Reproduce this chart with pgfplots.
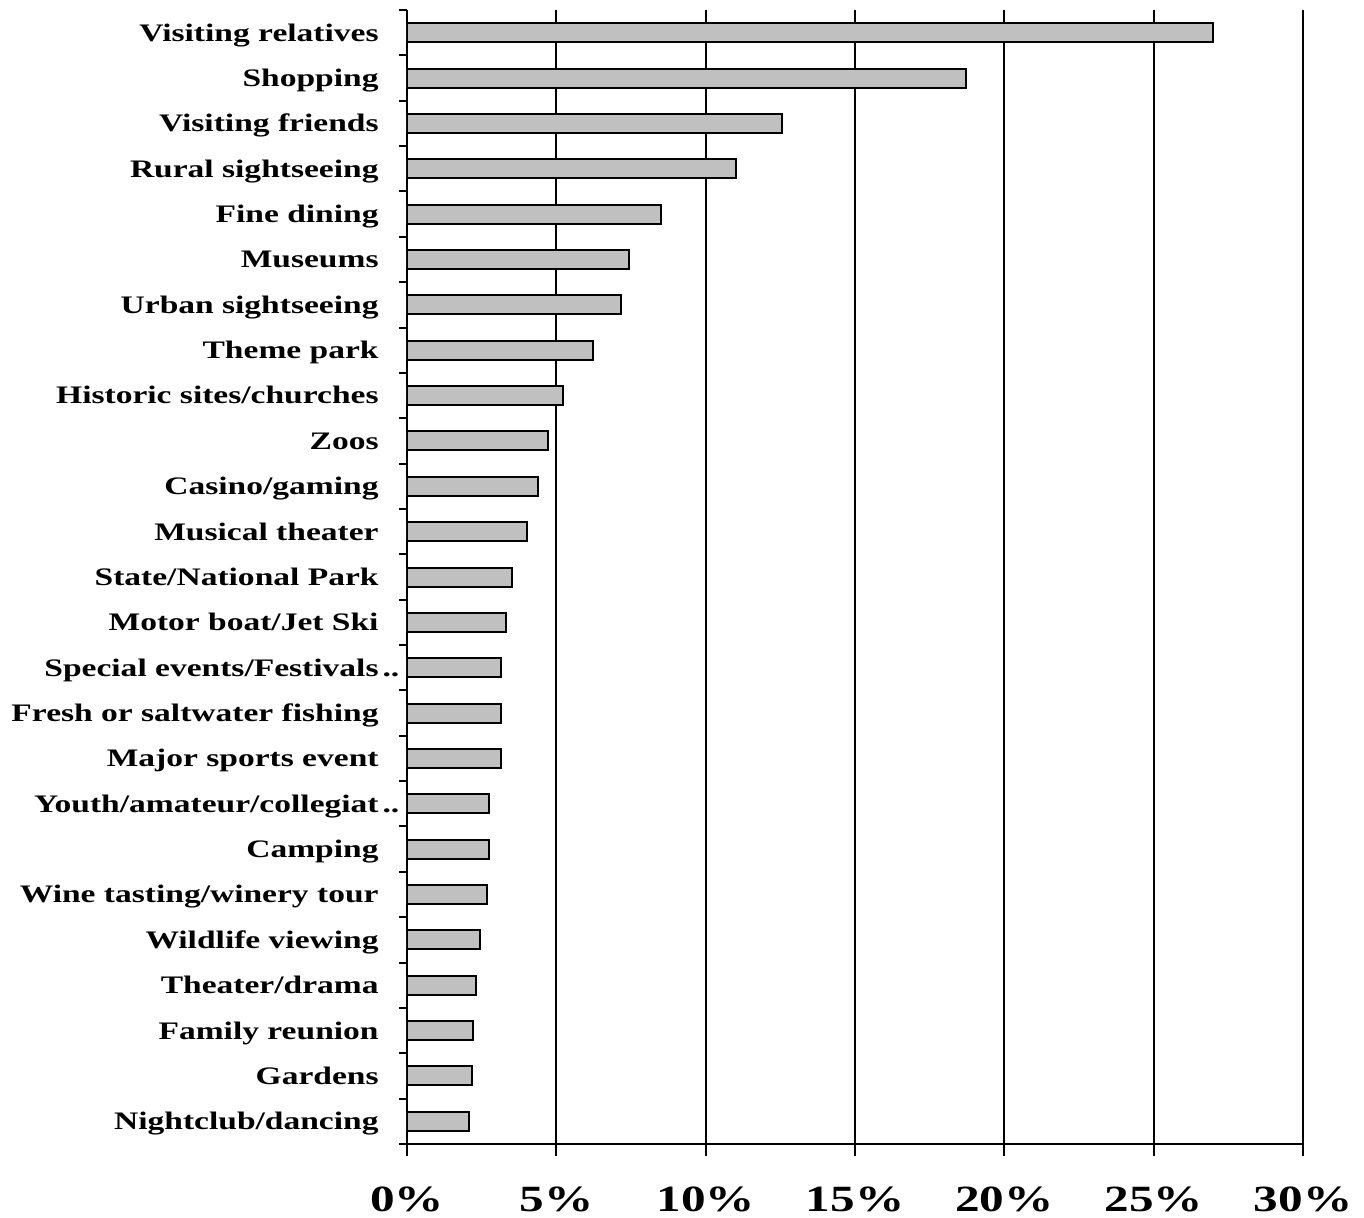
\documentclass[border=0pt]{standalone}
\usepackage{fontspec}
\setmainfont{Liberation Serif}[FakeStretch=1.33]
\usepackage{pgfplots}
\pgfplotsset{compat=1.18}
\definecolor{bargray}{RGB}{192,192,192}
\begin{document}
\begin{tikzpicture}
\path[use as bounding box] (-203.5pt,-36.5pt) rectangle (478.5pt,572pt);
\begin{axis}[
  at={(0pt,0pt)}, anchor=south west,
  scale only axis,
  width=448pt, height=567pt,
  xmin=0, xmax=30,
  ymin=-0.5, ymax=24.5,
  xbar, bar width=9.5pt,
  axis x line*=bottom, axis y line*=left,
  axis line style={line width=1pt},
  xmajorgrids,
  grid style={black, line width=1.1pt},
  tick align=outside,
  major tick length=6pt,
  minor tick length=4pt,
  tick style={black, line width=1pt},
  every major y tick/.append style={draw=none},
  xtick={0,5,10,15,20,25,30},
  xticklabels={0\%,5\%,10\%,15\%,20\%,25\%,30\%},
  ytick={0,...,24},
  minor ytick={-0.5,0.5,...,24.5},
  yticklabels={Nightclub/dancing, Gardens, Family reunion, Theater/drama, Wildlife viewing, Wine tasting/winery tour, Camping, Youth/amateur/collegiat\rlap{\kern2pt..}, Major sports event, Fresh or saltwater fishing, Special events/Festivals\rlap{\kern2pt..}, Motor boat/Jet Ski, State/National Park, Musical theater, Casino/gaming, Zoos, Historic sites/churches, Theme park, Urban sightseeing, Museums, Fine dining, Rural sightseeing, Visiting friends, Shopping, Visiting relatives},
  yticklabel style={font=\fontsize{12.6pt}{14pt}\selectfont\bfseries, anchor=base east, inner sep=0pt, xshift=-8pt, yshift=-4.2pt},
  xticklabel style={font=\fontsize{18.5pt}{20pt}\selectfont\bfseries, anchor=north, inner sep=0pt, yshift=-15pt},
]
\addplot[fill=bargray, draw=black, line width=1pt] coordinates {
(2.09,0) (2.17,1) (2.22,2) (2.30,3) (2.46,4) (2.67,5) (2.73,6) (2.73,7)
(3.16,8) (3.16,9) (3.16,10) (3.30,11) (3.51,12) (4.02,13) (4.37,14) (4.72,15)
(5.22,16) (6.22,17) (7.15,18) (7.42,19) (8.50,20) (11.0,21) (12.55,22) (18.7,23) (27.0,24)
};
\end{axis}
\end{tikzpicture}
\end{document}
